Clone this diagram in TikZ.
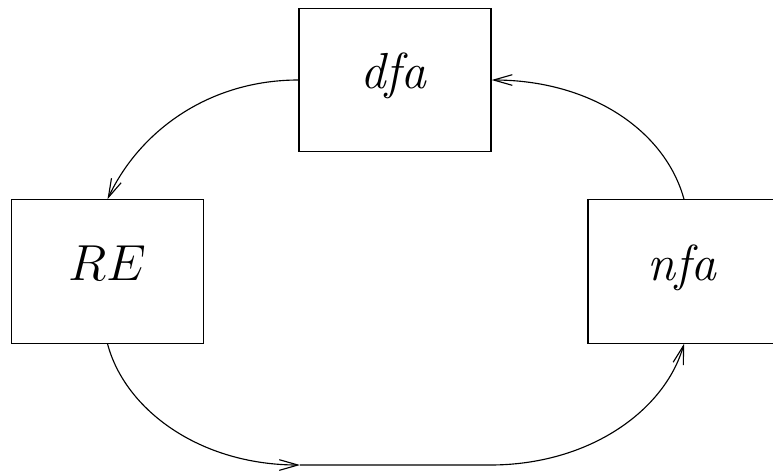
\RequirePackage{fix-cm}
\documentclass[tikz,border=0pt]{standalone}
\usetikzlibrary{arrows.meta}
\begin{document}
\begin{tikzpicture}[x=0.75pt,y=-0.75pt,
  stage/.style={draw,line width=0.9pt,minimum width=144pt,minimum height=107.5pt,
    inner sep=0pt,text height=12.75pt,text depth=0pt,font=\fontsize{38}{44}\selectfont},
  flow/.style={line width=0.85pt,-{Straight Barb[length=14pt,width=8pt,line width=0.85pt]}}]
  \useasboundingbox (0,0) rectangle (773,472);
  \node[stage] (dfa) at (395,80)    {$\mathit{dfa}$};
  \node[stage] (re)  at (107.5,271.5) {$RE$};
  \node[stage] (nfa) at (684,271.5) {$\mathit{nfa}$};
  \coordinate (midl) at (300,465);
  \coordinate (midr) at (490,465);
  % dfa -> RE
  \draw[flow] (dfa.west) .. controls (210,80) and (140,130) .. (re.north);
  % RE -> nfa, along the bottom
  \draw[flow] (re.south) .. controls (125,410) and (200,465) .. (midl);
  \draw[flow] (midl) -- (midr) .. controls (590,465) and (665,410) .. (nfa.south);
  % nfa -> dfa
  \draw[flow] (nfa.north) .. controls (665,130) and (590,80) .. (dfa.east);
\end{tikzpicture}
\end{document}
